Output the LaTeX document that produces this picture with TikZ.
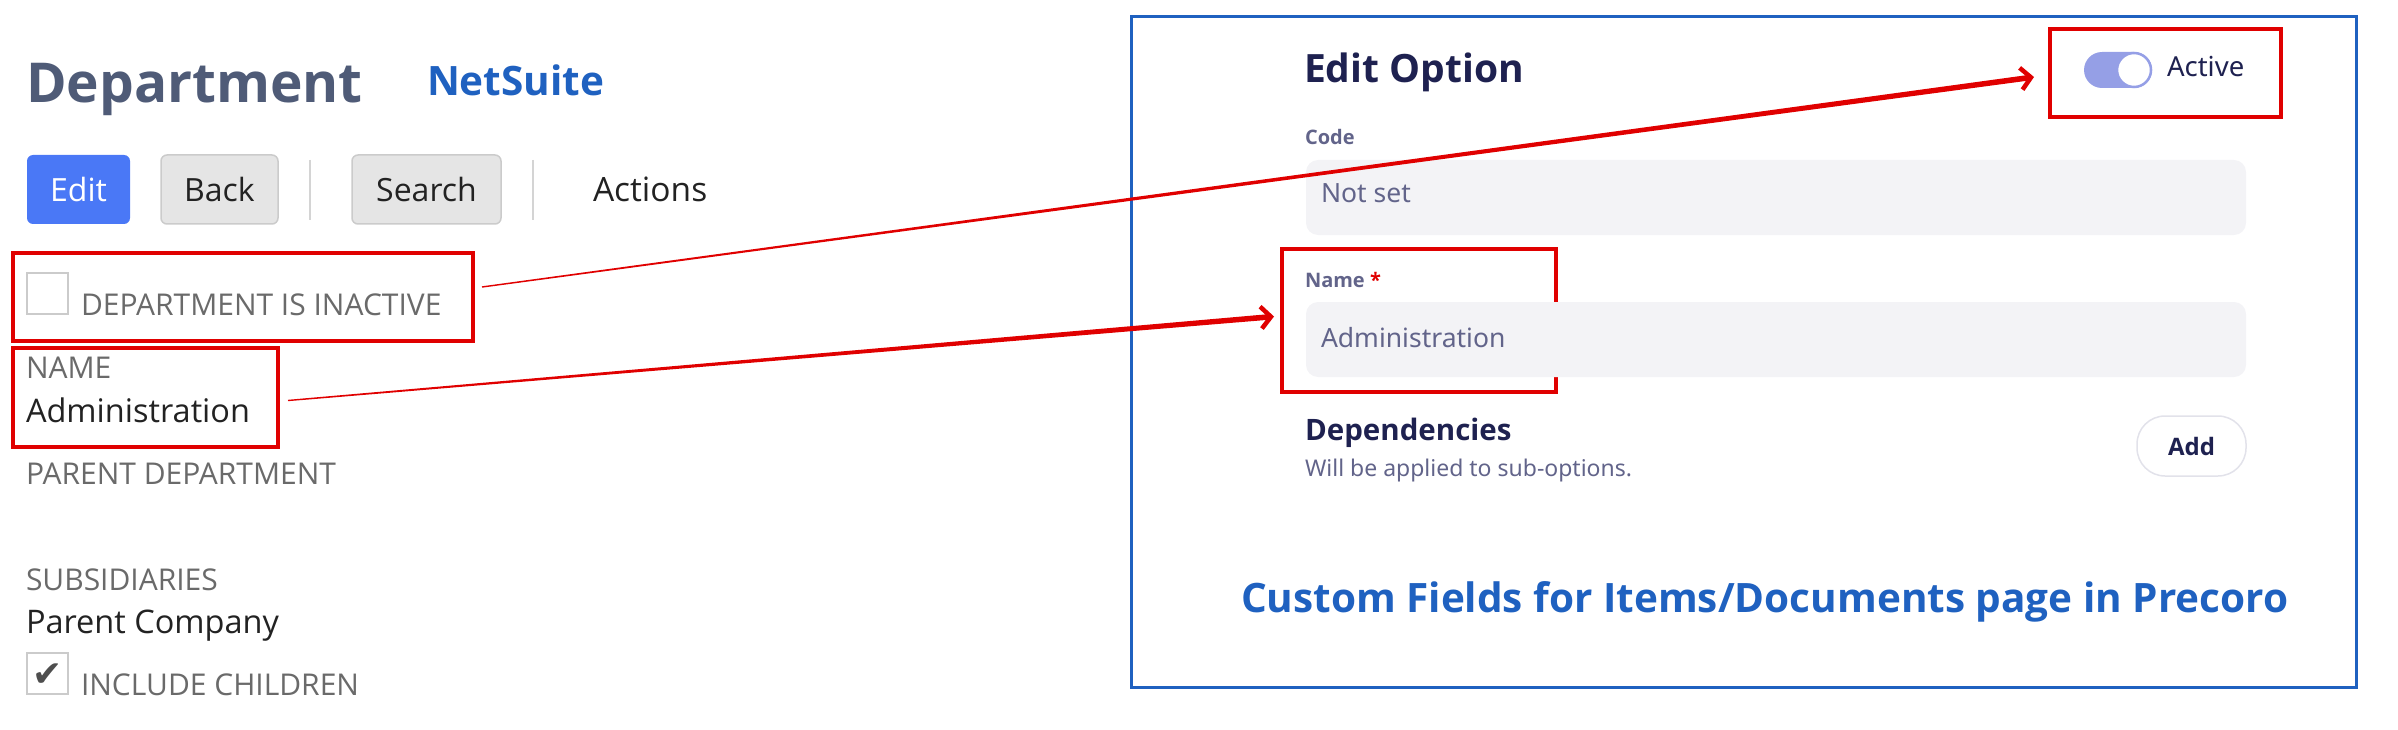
\documentclass[tikz,border=0pt]{standalone}
\usepackage{fontspec}
\setmainfont{Open Sans}
\newfontfamily\uifont{Noto Sans}
\newfontfamily\symfont{DejaVu Sans}
\usetikzlibrary{arrows.meta,calc,positioning}
\definecolor{nsslate}{HTML}{4F5B77}
\definecolor{nsblue}{HTML}{1F61C0}
\definecolor{editblue}{HTML}{4A78F6}
\definecolor{btnfill}{HTML}{E5E5E5}
\definecolor{btnborder}{HTML}{CBCBCB}
\definecolor{sepgray}{HTML}{D4D4D4}
\definecolor{labelgray}{HTML}{6A6A6A}
\definecolor{textdark}{HTML}{222222}
\definecolor{markred}{HTML}{E00000}
\definecolor{navy}{HTML}{1E2150}
\definecolor{uigray}{HTML}{62648A}
\definecolor{fieldgray}{HTML}{F3F3F6}
\definecolor{togglecol}{HTML}{959FE6}
\definecolor{addborder}{HTML}{E2E2EA}
\begin{document}
\begin{tikzpicture}[
				x=1pt,y=-1pt,
				every node/.style={inner sep=0pt, outer sep=0pt, anchor=base west},
				nslabel/.style={font=\fontsize{30}{33}\selectfont, text=labelgray},
				nsvalue/.style={font=\fontsize{32.5}{36}\selectfont, text=textdark},
				nsbtn/.style={draw=btnborder, fill=btnfill, line width=1.5pt, rounded corners=6pt,
						anchor=north west, minimum height=69pt, text height=23pt, text depth=0pt,
						font=\fontsize{32}{34}\selectfont, text=textdark},
				chkbox/.style={draw=btnborder, line width=1.5pt, minimum size=41pt, anchor=north west},
				redbox/.style={draw=markred, line width=4pt, anchor=north west},
				field/.style={fill=fieldgray, rounded corners=12pt, minimum width=940pt, minimum height=75pt, anchor=north west},
				uilabel/.style={font=\fontsize{20}{24}\selectfont, text=uigray},
				uivalue/.style={font=\uifont\fontsize{26.5}{30}\selectfont, text=uigray},
				uihead/.style={font=\bfseries\fontsize{39}{42}\selectfont, text=navy},
			]
			\useasboundingbox (0,0) rectangle (2398,730);
			\node[font=\bfseries\fontsize{55}{60}\selectfont, text=nsslate] (dept) at (26,103) {Department};
			\node[font=\bfseries\fontsize{40.5}{44}\selectfont, text=nsblue] (netsuite) at (427,96) {NetSuite};
			\node[nsbtn, draw=none, fill=editblue, text=white, minimum width=103pt] (editbtn) at (27,155) {Edit};
			\node[nsbtn, minimum width=117pt] (backbtn) at (161,155) {Back};
			\node[nsbtn, minimum width=149pt] (searchbtn) at (352,155) {Search};
			\node[font=\fontsize{33.5}{36}\selectfont, text=textdark] (actions) at (593,201) {Actions};
			\foreach \x in {310,533} {
					\draw[sepgray, line width=2pt] (\x,160) -- (\x,220);
				}
			\node[redbox, minimum width=460pt, minimum height=88pt] (inactbox) at (13,253) {};
			\node[chkbox] (inactchk) at (27,273) {};
			\node[nslabel] (inact) at (81,315) {DEPARTMENT IS INACTIVE};
			\node[redbox, minimum width=265pt, minimum height=99pt] (namebox) at (13,348) {};
			\node[nslabel] (namelbl) at (26,378) {NAME};
			\node[nsvalue] (nameval) at (26,422) {Administration};
			\node[nslabel] (parent) at (26,484) {PARENT DEPARTMENT};
			\node[nslabel] (subs) at (26,590) {SUBSIDIARIES};
			\node[nsvalue] (subsval) at (26,633) {Parent Company};
			\node[chkbox] (childchk) at (27,653) {};
			\node[anchor=center, font=\symfont\fontsize{36}{38}\selectfont, text=textdark!80] (tick) at ([yshift=-2pt]childchk.center) {✔};
			\node[nslabel] (child) at (81,695) {INCLUDE CHILDREN};

			\node[draw=nsblue, line width=3pt, minimum width=1225pt, minimum height=670pt, anchor=north west] (precoro) at (1131,17) {};
			\node[uihead] (editopt) at (1304,83) {Edit Option};
			\node[redbox, minimum width=231pt, minimum height=88pt] (actbox) at (2050,29) {};
			\node[fill=togglecol, rounded corners=18pt, minimum width=68pt, minimum height=36pt, anchor=north west] (toggle) at (2084,52) {};
			\node[circle, fill=white, draw=togglecol, line width=2.5pt, minimum size=34pt, anchor=east] (knob) at ([xshift=-1pt]toggle.east) {};
			\node[font=\uifont\fontsize{27.5}{30}\selectfont, text=navy] (active) at (2167,77) {Active};
			\node[uilabel, font=\bfseries\fontsize{20}{24}\selectfont] (code) at (1305,145) {Code};
			\node[field] (codefield) at (1306,160) {};
			\node[uivalue] (notset) at (1321,203) {Not set};
			\node[redbox, minimum width=274pt, minimum height=143pt] (pcnamebox) at (1282,249) {};
			\node[uilabel, font=\bfseries\fontsize{20}{24}\selectfont] (pcname) at (1305,287) {Name \textcolor{markred}{*}};
			\node[field] (namefield) at (1306,302) {};
			\node[uivalue] (pcnameval) at (1321,347) {Administration};
			\node[uihead, font=\bfseries\fontsize{29.5}{32}\selectfont] (deps) at (1305,440) {Dependencies};
			\node[uilabel, font=\uifont\fontsize{23}{26}\selectfont] (depsnote) at (1305,476) {Will be applied to sub-options.};
			\node[draw=addborder, fill=white, line width=1.5pt, rounded corners=28pt, minimum width=109pt, minimum height=60pt,
				anchor=north west, text height=18pt, text depth=0pt, font=\bfseries\fontsize{24}{28}\selectfont, text=navy] (addbtn) at (2137,416) {Add};
			\node[font=\bfseries\fontsize{40.5}{44}\selectfont, text=nsblue] (caption) at (1241,612) {Custom Fields for Items/Documents page in Precoro};

			\coordinate (t1) at ([xshift=9pt,yshift=10pt]inactbox.east);
			\coordinate (h1) at ([xshift=-16pt,yshift=-4pt]actbox.west);
			\coordinate (t2) at ([xshift=10pt,yshift=-3pt]namebox.east);
			\coordinate (h2) at ([xshift=-8pt,yshift=4pt]pcnamebox.west);
			\foreach \t/\h in {t1/h1,t2/h2} {
					\fill[markred] ($(\t)!0.7pt!90:(\h)$) -- ($(\h)!5pt!(\t)!2.8pt!-90:(\t)$)
						-- ($(\h)!5pt!(\t)!2.8pt!90:(\t)$) -- ($(\t)!0.7pt!-90:(\h)$) -- cycle;
					\draw[markred, line width=4.5pt, -{Straight Barb[length=10pt,width=22pt]}] ($(\h)!24pt!(\t)$) -- (\h);
				}
		\end{tikzpicture}
\end{document}
